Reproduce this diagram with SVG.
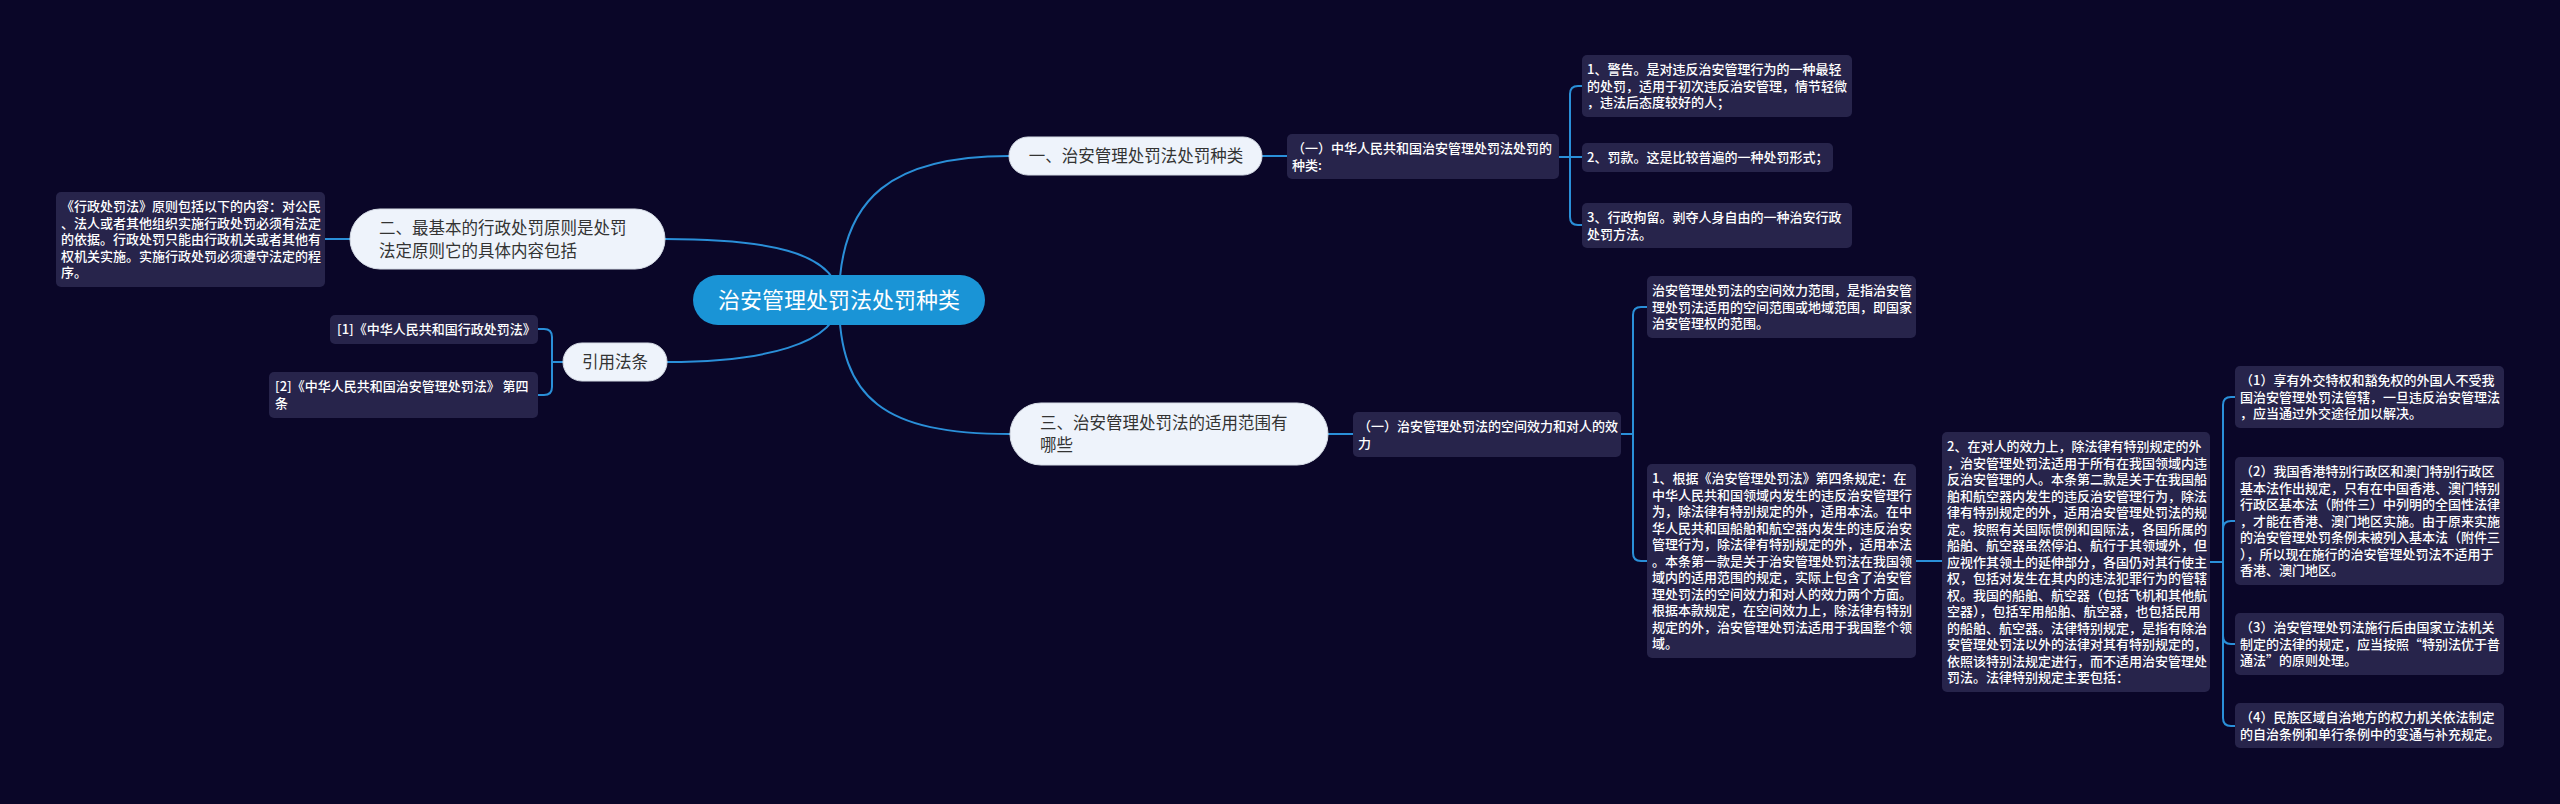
<svg xmlns="http://www.w3.org/2000/svg" width="2560" height="804" viewBox="0 0 2560 804">
<style>
text{font-family:"Noto Sans CJK SC","Noto Sans",sans-serif}
.box{fill:#27244b}
.t{fill:#ffffff;font-size:13px;font-weight:500}
.pill{fill:#eef3fb;stroke:#d6dce6;stroke-width:1}
.pt{fill:#333333;font-size:16.5px}
.link{stroke:#2a8fd8;stroke-width:2;fill:none}
</style>
<rect x="0" y="0" width="2560" height="804" fill="#0a0628"/>
<g id="connectors">
<path class="link" d="M839 300 C839 195 895 156 1009 156"/>
<path class="link" d="M839 300 C839 250 760 239 665 239"/>
<path class="link" d="M839 300 C839 345 760 362 667 362"/>
<path class="link" d="M839 300 C839 400 885 434 1010 434"/>
<path class="link" d="M1262 156 H1287"/>
<path class="link" d="M1559 157 H1582"/>
<path class="link" d="M1570 157 V94 Q1570 86 1578 86 H1582"/>
<path class="link" d="M1570 157 V217 Q1570 225 1578 225 H1582"/>
<path class="link" d="M350 239 H325"/>
<path class="link" d="M563 362 H552"/>
<path class="link" d="M552 362 V337 Q552 329 544 329 H538"/>
<path class="link" d="M552 362 V387 Q552 395 544 395 H538"/>
<path class="link" d="M1328 434 H1353"/>
<path class="link" d="M1621 434 H1633"/>
<path class="link" d="M1633 434 V315 Q1633 307 1641 307 H1647"/>
<path class="link" d="M1633 434 V553 Q1633 561 1641 561 H1647"/>
<path class="link" d="M1916 561 H1942"/>
<path class="link" d="M2210 562 H2223"/>
<path class="link" d="M2223 562 V405 Q2223 397 2231 397 H2235"/>
<path class="link" d="M2223 562 V529 Q2223 521 2231 521 H2235"/>
<path class="link" d="M2223 562 V636 Q2223 644 2231 644 H2235"/>
<path class="link" d="M2223 562 V718 Q2223 726 2231 726 H2235"/>
</g>
<g id="center">
<rect x="693" y="275" width="292" height="50" rx="25" fill="#1a94d6"/>
<text x="839" y="308.4" text-anchor="middle" fill="#ffffff" font-size="22">治安管理处罚法处罚种类</text>
</g>
<g id="n1">
<rect class="pill" x="1009" y="137" width="253" height="38" rx="19"/>
<text class="pt" x="1136" y="162.3" text-anchor="middle">一、治安管理处罚法处罚种类</text>
</g>
<g id="n1a">
<rect class="box" x="1287" y="134" width="272" height="45" rx="5"/>
<text class="t"><tspan x="1292" y="153.4">（一）中华人民共和国治安管理处罚法处罚的</tspan><tspan x="1292" y="169.9">种类:</tspan></text>
</g>
<g id="n1a1">
<rect class="box" x="1582" y="55" width="270" height="62" rx="5"/>
<text class="t"><tspan x="1587" y="74.4">1、警告。是对违反治安管理行为的一种最轻</tspan><tspan x="1587" y="90.9">的处罚，适用于初次违反治安管理，情节轻微</tspan><tspan x="1587" y="107.4">，违法后态度较好的人；</tspan></text>
</g>
<g id="n1a2">
<rect class="box" x="1582" y="143" width="251" height="29" rx="5"/>
<text class="t" x="1587" y="162.4">2、罚款。这是比较普遍的一种处罚形式；</text>
</g>
<g id="n1a3">
<rect class="box" x="1582" y="203" width="270" height="45" rx="5"/>
<text class="t"><tspan x="1587" y="222.4">3、行政拘留。剥夺人身自由的一种治安行政</tspan><tspan x="1587" y="238.9">处罚方法。</tspan></text>
</g>
<g id="n2">
<rect class="pill" x="350" y="209" width="315" height="60" rx="30"/>
<text class="pt"><tspan x="379" y="233.8">二、最基本的行政处罚原则是处罚</tspan><tspan x="379" y="256.8">法定原则它的具体内容包括</tspan></text>
</g>
<g id="n2a">
<rect class="box" x="56" y="192" width="269" height="95" rx="5"/>
<text class="t"><tspan x="61" y="211.4">《行政处罚法》原则包括以下的内容：对公民</tspan><tspan x="61" y="227.9">、法人或者其他组织实施行政处罚必须有法定</tspan><tspan x="61" y="244.4">的依据。行政处罚只能由行政机关或者其他有</tspan><tspan x="61" y="260.9">权机关实施。实施行政处罚必须遵守法定的程</tspan><tspan x="61" y="277.4">序。</tspan></text>
</g>
<g id="n3">
<rect class="pill" x="563" y="343" width="104" height="38" rx="19"/>
<text class="pt" x="615" y="368.3" text-anchor="middle">引用法条</text>
</g>
<g id="n3a">
<rect class="box" x="330" y="315" width="208" height="29" rx="5"/>
<text class="t" x="337" y="334.4">[1]《中华人民共和国行政处罚法》</text>
</g>
<g id="n3b">
<rect class="box" x="269" y="372" width="269" height="46" rx="5"/>
<text class="t"><tspan x="275" y="391.4">[2]《中华人民共和国治安管理处罚法》 第四</tspan><tspan x="275" y="407.9">条</tspan></text>
</g>
<g id="n4">
<rect class="pill" x="1010" y="403" width="318" height="62" rx="31"/>
<text class="pt"><tspan x="1040" y="428.8">三、治安管理处罚法的适用范围有</tspan><tspan x="1040" y="451.3">哪些</tspan></text>
</g>
<g id="n4a">
<rect class="box" x="1353" y="412" width="268" height="45" rx="5"/>
<text class="t"><tspan x="1358" y="431.4">（一）治安管理处罚法的空间效力和对人的效</tspan><tspan x="1358" y="447.9">力</tspan></text>
</g>
<g id="n4a1">
<rect class="box" x="1647" y="276" width="269" height="62" rx="5"/>
<text class="t"><tspan x="1652" y="295.4">治安管理处罚法的空间效力范围，是指治安管</tspan><tspan x="1652" y="311.9">理处罚法适用的空间范围或地域范围，即国家</tspan><tspan x="1652" y="328.4">治安管理权的范围。</tspan></text>
</g>
<g id="n4a2">
<rect class="box" x="1647" y="464" width="269" height="194" rx="5"/>
<text class="t"><tspan x="1652" y="483.4">1、根据《治安管理处罚法》第四条规定：在</tspan><tspan x="1652" y="499.9">中华人民共和国领域内发生的违反治安管理行</tspan><tspan x="1652" y="516.4">为，除法律有特别规定的外，适用本法。在中</tspan><tspan x="1652" y="532.9">华人民共和国船舶和航空器内发生的违反治安</tspan><tspan x="1652" y="549.4">管理行为，除法律有特别规定的外，适用本法</tspan><tspan x="1652" y="565.9">。本条第一款是关于治安管理处罚法在我国领</tspan><tspan x="1652" y="582.4">域内的适用范围的规定，实际上包含了治安管</tspan><tspan x="1652" y="598.9">理处罚法的空间效力和对人的效力两个方面。</tspan><tspan x="1652" y="615.4">根据本款规定，在空间效力上，除法律有特别</tspan><tspan x="1652" y="631.9">规定的外，治安管理处罚法适用于我国整个领</tspan><tspan x="1652" y="648.4">域。</tspan></text>
</g>
<g id="n4a3">
<rect class="box" x="1942" y="432" width="268" height="260" rx="5"/>
<text class="t"><tspan x="1947" y="451.4">2、在对人的效力上，除法律有特别规定的外</tspan><tspan x="1947" y="467.9">，治安管理处罚法适用于所有在我国领域内违</tspan><tspan x="1947" y="484.4">反治安管理的人。本条第二款是关于在我国船</tspan><tspan x="1947" y="500.9">舶和航空器内发生的违反治安管理行为，除法</tspan><tspan x="1947" y="517.4">律有特别规定的外，适用治安管理处罚法的规</tspan><tspan x="1947" y="533.9">定。按照有关国际惯例和国际法，各国所属的</tspan><tspan x="1947" y="550.4">船舶、航空器虽然停泊、航行于其领域外，但</tspan><tspan x="1947" y="566.9">应视作其领土的延伸部分，各国仍对其行使主</tspan><tspan x="1947" y="583.4">权，包括对发生在其内的违法犯罪行为的管辖</tspan><tspan x="1947" y="599.9">权。我国的船舶、航空器（包括飞机和其他航</tspan><tspan x="1947" y="616.4">空器），包括军用船舶、航空器，也包括民用</tspan><tspan x="1947" y="632.9">的船舶、航空器。法律特别规定，是指有除治</tspan><tspan x="1947" y="649.4">安管理处罚法以外的法律对其有特别规定的，</tspan><tspan x="1947" y="665.9">依照该特别法规定进行，而不适用治安管理处</tspan><tspan x="1947" y="682.4">罚法。法律特别规定主要包括：</tspan></text>
</g>
<g id="r1">
<rect class="box" x="2235" y="366" width="269" height="62" rx="5"/>
<text class="t"><tspan x="2240" y="385.4">（1）享有外交特权和豁免权的外国人不受我</tspan><tspan x="2240" y="401.9">国治安管理处罚法管辖，一旦违反治安管理法</tspan><tspan x="2240" y="418.4">，应当通过外交途径加以解决。</tspan></text>
</g>
<g id="r2">
<rect class="box" x="2235" y="457" width="269" height="128" rx="5"/>
<text class="t"><tspan x="2240" y="476.4">（2）我国香港特别行政区和澳门特别行政区</tspan><tspan x="2240" y="492.9">基本法作出规定，只有在中国香港、澳门特别</tspan><tspan x="2240" y="509.4">行政区基本法（附件三）中列明的全国性法律</tspan><tspan x="2240" y="525.9">，才能在香港、澳门地区实施。由于原来实施</tspan><tspan x="2240" y="542.4">的治安管理处罚条例未被列入基本法（附件三</tspan><tspan x="2240" y="558.9">），所以现在施行的治安管理处罚法不适用于</tspan><tspan x="2240" y="575.4">香港、澳门地区。</tspan></text>
</g>
<g id="r3">
<rect class="box" x="2235" y="613" width="269" height="62" rx="5"/>
<text class="t"><tspan x="2240" y="632.4">（3）治安管理处罚法施行后由国家立法机关</tspan><tspan x="2240" y="648.9">制定的法律的规定，应当按照“特别法优于普</tspan><tspan x="2240" y="665.4">通法”的原则处理。</tspan></text>
</g>
<g id="r4">
<rect class="box" x="2235" y="703" width="269" height="45" rx="5"/>
<text class="t"><tspan x="2240" y="722.4">（4）民族区域自治地方的权力机关依法制定</tspan><tspan x="2240" y="738.9">的自治条例和单行条例中的变通与补充规定。</tspan></text>
</g>
</svg>
